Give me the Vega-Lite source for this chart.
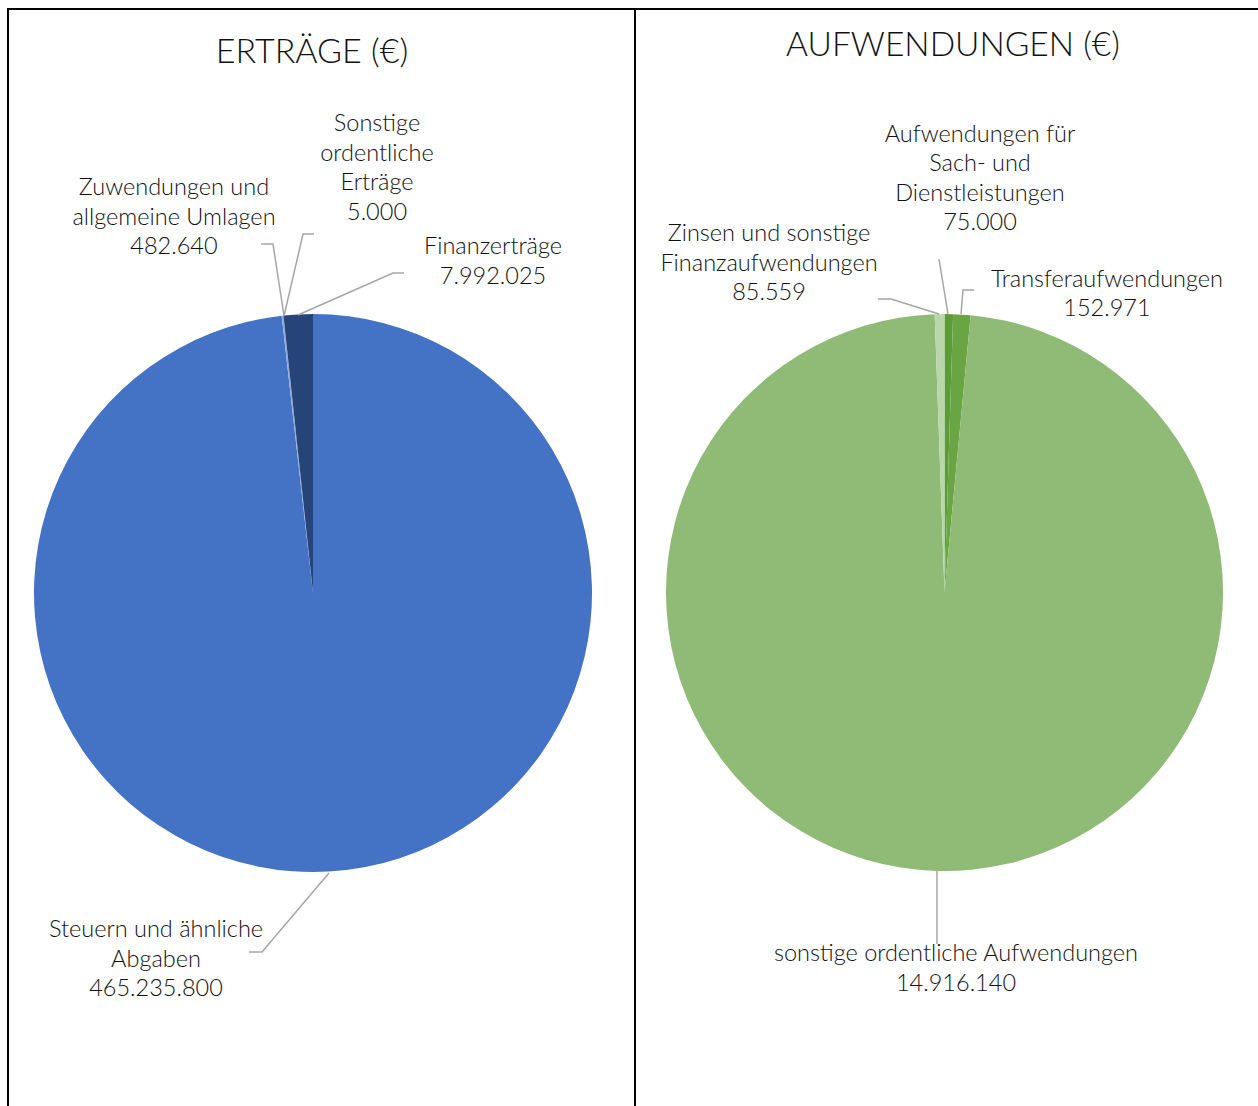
{
  "$schema": "https://vega.github.io/schema/vega-lite/v6.json",
  "background": "white",
  "padding": {"left": 7, "top": 8, "right": 0, "bottom": 0},
  "spacing": 0,
  "bounds": "flush",
  "resolve": {"scale": {"color": "independent"}},
  "config": {"view": {"stroke": "#000000", "strokeWidth": 2}, "font": "Lato"},
  "datasets": {
    "ertraege": [
      {"kategorie": "Steuern und ähnliche Abgaben", "wert": 465235800, "ord": 1},
      {"kategorie": "Zuwendungen und allgemeine Umlagen", "wert": 482640, "ord": 2},
      {"kategorie": "Sonstige ordentliche Erträge", "wert": 5000, "ord": 3},
      {"kategorie": "Finanzerträge", "wert": 7992025, "ord": 4}
    ],
    "aufwendungen": [
      {"kategorie": "Aufwendungen für Sach- und Dienstleistungen", "wert": 75000, "ord": 1},
      {"kategorie": "Transferaufwendungen", "wert": 152971, "ord": 2},
      {"kategorie": "sonstige ordentliche Aufwendungen", "wert": 14916140, "ord": 3},
      {"kategorie": "Zinsen und sonstige Finanzaufwendungen", "wert": 85559, "ord": 4}
    ],
    "ertraege_labels": [
      {"label": "Zuwendungen und\nallgemeine Umlagen\n482.640", "lx": -0.4982, "ly": 1.4516},
      {"label": "Sonstige\nordentliche\nErträge\n5.000", "lx": 0.2294, "ly": 1.681},
      {"label": "Finanzerträge\n7.992.025", "lx": 0.6452, "ly": 1.2401},
      {"label": "Steuern und ähnliche\nAbgaben\n465.235.800", "lx": -0.5627, "ly": -1.2079}
    ],
    "aufwendungen_labels": [
      {"label": "Aufwendungen für\nSach- und\nDienstleistungen\n75.000", "lx": 0.1272, "ly": 1.6398},
      {"label": "Zinsen und sonstige\nFinanzaufwendungen\n85.559", "lx": -0.629, "ly": 1.2849},
      {"label": "Transferaufwendungen\n152.971", "lx": 0.5824, "ly": 1.1201},
      {"label": "sonstige ordentliche Aufwendungen\n14.916.140", "lx": 0.0412, "ly": -1.2957}
    ],
    "ertraege_lines": [
      {"id": "a", "o": 1, "px": -0.1864, "py": 1.2509},
      {"id": "a", "o": 2, "px": -0.1434, "py": 1.2509},
      {"id": "a", "o": 3, "px": -0.1039, "py": 0.9928},
      {"id": "b", "o": 1, "px": 0.0036, "py": 1.2867},
      {"id": "b", "o": 2, "px": -0.0358, "py": 1.2867},
      {"id": "b", "o": 3, "px": -0.1039, "py": 0.9928},
      {"id": "c", "o": 1, "px": 0.3262, "py": 1.147},
      {"id": "c", "o": 2, "px": 0.2867, "py": 1.147},
      {"id": "c", "o": 3, "px": -0.0538, "py": 0.9964},
      {"id": "d", "o": 1, "px": 0.0573, "py": -1.0036},
      {"id": "d", "o": 2, "px": -0.1828, "py": -1.2867},
      {"id": "d", "o": 3, "px": -0.2294, "py": -1.2867}
    ],
    "aufwendungen_lines": [
      {"id": "a", "o": 1, "px": -0.0197, "py": 1.1953},
      {"id": "a", "o": 2, "px": 0.0125, "py": 0.9982},
      {"id": "b", "o": 1, "px": 0.1057, "py": 1.0842},
      {"id": "b", "o": 2, "px": 0.0663, "py": 1.0842},
      {"id": "b", "o": 3, "px": 0.0591, "py": 0.9982},
      {"id": "c", "o": 1, "px": -0.2384, "py": 1.052},
      {"id": "c", "o": 2, "px": -0.1918, "py": 1.052},
      {"id": "c", "o": 3, "px": -0.0197, "py": 0.9982},
      {"id": "d", "o": 1, "px": -0.0269, "py": -0.9982},
      {"id": "d", "o": 2, "px": -0.0269, "py": -1.2599}
    ],
    "schatten": [{"v": 1}]
  },
  "hconcat": [
    {
      "width": 627,
      "height": 1106,
      "layer": [
        {
          "data": {"name": "schatten"},
          "mark": {"type": "arc", "outerRadius": 290, "color": "#000000", "opacity": 0.03},
          "encoding": {
            "x": {"datum": 0, "type": "quantitative", "scale": {"domain": [-1.09319, 1.15412], "nice": false, "zero": false}, "axis": null},
            "y": {"datum": 0, "type": "quantitative", "scale": {"domain": [-1.87097, 2.09319], "nice": false, "zero": false}, "axis": null},
            "theta": {"field": "v", "type": "quantitative"}
          }
        },
        {
          "data": {"name": "schatten"},
          "mark": {"type": "arc", "outerRadius": 285, "color": "#000000", "opacity": 0.05},
          "encoding": {
            "x": {"datum": 0, "type": "quantitative", "scale": {"domain": [-1.09319, 1.15412], "nice": false, "zero": false}, "axis": null},
            "y": {"datum": 0, "type": "quantitative", "scale": {"domain": [-1.87097, 2.09319], "nice": false, "zero": false}, "axis": null},
            "theta": {"field": "v", "type": "quantitative"}
          }
        },
        {
          "data": {"name": "schatten"},
          "mark": {"type": "arc", "outerRadius": 281.5, "color": "#000000", "opacity": 0.08},
          "encoding": {
            "x": {"datum": 0, "type": "quantitative", "scale": {"domain": [-1.09319, 1.15412], "nice": false, "zero": false}, "axis": null},
            "y": {"datum": 0, "type": "quantitative", "scale": {"domain": [-1.87097, 2.09319], "nice": false, "zero": false}, "axis": null},
            "theta": {"field": "v", "type": "quantitative"}
          }
        },
        {
          "data": {"name": "ertraege"},
          "mark": {"type": "arc", "outerRadius": 279},
          "encoding": {
            "x": {"datum": 0, "type": "quantitative", "scale": {"domain": [-1.09319, 1.15412], "nice": false, "zero": false}, "axis": null},
            "y": {"datum": 0, "type": "quantitative", "scale": {"domain": [-1.87097, 2.09319], "nice": false, "zero": false}, "axis": null},
            "theta": {"field": "wert", "type": "quantitative", "stack": true},
            "order": {"field": "ord", "type": "quantitative"},
            "color": {
              "field": "kategorie", "type": "nominal", "legend": null,
              "scale": {
                "domain": ["Steuern und ähnliche Abgaben", "Zuwendungen und allgemeine Umlagen", "Sonstige ordentliche Erträge", "Finanzerträge"],
                "range": ["#4472C4", "#8FAADC", "#698ED0", "#264478"]
              }
            }
          }
        },
        {
          "data": {"name": "ertraege_lines"},
          "mark": {"type": "line", "color": "#A6A6A6", "strokeWidth": 1.5},
          "encoding": {
            "x": {"field": "px", "type": "quantitative", "scale": {"domain": [-1.09319, 1.15412], "nice": false, "zero": false}, "axis": null},
            "y": {"field": "py", "type": "quantitative", "scale": {"domain": [-1.87097, 2.09319], "nice": false, "zero": false}, "axis": null},
            "detail": {"field": "id", "type": "nominal"},
            "order": {"field": "o", "type": "quantitative"}
          }
        },
        {
          "data": {"name": "ertraege_labels"},
          "mark": {"type": "text", "font": "Lato", "fontWeight": 300, "fontSize": 23.5, "lineHeight": 29.5, "lineBreak": "\n", "align": "center", "baseline": "middle", "color": "#111111"},
          "encoding": {
            "x": {"field": "lx", "type": "quantitative", "scale": {"domain": [-1.09319, 1.15412], "nice": false, "zero": false}, "axis": null},
            "y": {"field": "ly", "type": "quantitative", "scale": {"domain": [-1.87097, 2.09319], "nice": false, "zero": false}, "axis": null},
            "text": {"field": "label", "type": "nominal"}
          }
        },
        {
          "data": {"values": [{"titel": "ERTRÄGE (€)"}]},
          "mark": {"type": "text", "font": "Lato", "fontWeight": 300, "fontSize": 34, "align": "center", "baseline": "middle", "color": "#111111"},
          "encoding": {
            "x": {"datum": -0.0036, "type": "quantitative", "scale": {"domain": [-1.09319, 1.15412], "nice": false, "zero": false}, "axis": null},
            "y": {"datum": 1.9355, "type": "quantitative", "scale": {"domain": [-1.87097, 2.09319], "nice": false, "zero": false}, "axis": null},
            "text": {"field": "titel", "type": "nominal"}
          }
        }
      ]
    },
    {
      "width": 630,
      "height": 1106,
      "layer": [
        {
          "data": {"name": "schatten"},
          "mark": {"type": "arc", "outerRadius": 289.5, "color": "#000000", "opacity": 0.03},
          "encoding": {
            "x": {"datum": 0, "type": "quantitative", "scale": {"domain": [-1.10932, 1.14875], "nice": false, "zero": false}, "axis": null},
            "y": {"datum": 0, "type": "quantitative", "scale": {"domain": [-1.87276, 2.0914], "nice": false, "zero": false}, "axis": null},
            "theta": {"field": "v", "type": "quantitative"}
          }
        },
        {
          "data": {"name": "schatten"},
          "mark": {"type": "arc", "outerRadius": 284.5, "color": "#000000", "opacity": 0.05},
          "encoding": {
            "x": {"datum": 0, "type": "quantitative", "scale": {"domain": [-1.10932, 1.14875], "nice": false, "zero": false}, "axis": null},
            "y": {"datum": 0, "type": "quantitative", "scale": {"domain": [-1.87276, 2.0914], "nice": false, "zero": false}, "axis": null},
            "theta": {"field": "v", "type": "quantitative"}
          }
        },
        {
          "data": {"name": "schatten"},
          "mark": {"type": "arc", "outerRadius": 281, "color": "#000000", "opacity": 0.08},
          "encoding": {
            "x": {"datum": 0, "type": "quantitative", "scale": {"domain": [-1.10932, 1.14875], "nice": false, "zero": false}, "axis": null},
            "y": {"datum": 0, "type": "quantitative", "scale": {"domain": [-1.87276, 2.0914], "nice": false, "zero": false}, "axis": null},
            "theta": {"field": "v", "type": "quantitative"}
          }
        },
        {
          "data": {"name": "aufwendungen"},
          "mark": {"type": "arc", "outerRadius": 278.5},
          "encoding": {
            "x": {"datum": 0, "type": "quantitative", "scale": {"domain": [-1.10932, 1.14875], "nice": false, "zero": false}, "axis": null},
            "y": {"datum": 0, "type": "quantitative", "scale": {"domain": [-1.87276, 2.0914], "nice": false, "zero": false}, "axis": null},
            "theta": {"field": "wert", "type": "quantitative", "stack": true},
            "order": {"field": "ord", "type": "quantitative"},
            "color": {
              "field": "kategorie", "type": "nominal", "legend": null,
              "scale": {
                "domain": ["Aufwendungen für Sach- und Dienstleistungen", "Transferaufwendungen", "sonstige ordentliche Aufwendungen", "Zinsen und sonstige Finanzaufwendungen"],
                "range": ["#5C9B38", "#6AA544", "#90BB76", "#BAD7A9"]
              }
            }
          }
        },
        {
          "data": {"name": "aufwendungen_lines"},
          "mark": {"type": "line", "color": "#A6A6A6", "strokeWidth": 1.5},
          "encoding": {
            "x": {"field": "px", "type": "quantitative", "scale": {"domain": [-1.10932, 1.14875], "nice": false, "zero": false}, "axis": null},
            "y": {"field": "py", "type": "quantitative", "scale": {"domain": [-1.87276, 2.0914], "nice": false, "zero": false}, "axis": null},
            "detail": {"field": "id", "type": "nominal"},
            "order": {"field": "o", "type": "quantitative"}
          }
        },
        {
          "data": {"name": "aufwendungen_labels"},
          "mark": {"type": "text", "font": "Lato", "fontWeight": 300, "fontSize": 23.5, "lineHeight": 29.5, "lineBreak": "\n", "align": "center", "baseline": "middle", "color": "#111111"},
          "encoding": {
            "x": {"field": "lx", "type": "quantitative", "scale": {"domain": [-1.10932, 1.14875], "nice": false, "zero": false}, "axis": null},
            "y": {"field": "ly", "type": "quantitative", "scale": {"domain": [-1.87276, 2.0914], "nice": false, "zero": false}, "axis": null},
            "text": {"field": "label", "type": "nominal"}
          }
        },
        {
          "data": {"values": [{"titel": "AUFWENDUNGEN (€)"}]},
          "mark": {"type": "text", "font": "Lato", "fontWeight": 300, "fontSize": 33.5, "align": "center", "baseline": "middle", "color": "#111111"},
          "encoding": {
            "x": {"datum": 0.0305, "type": "quantitative", "scale": {"domain": [-1.10932, 1.14875], "nice": false, "zero": false}, "axis": null},
            "y": {"datum": 1.9588, "type": "quantitative", "scale": {"domain": [-1.87276, 2.0914], "nice": false, "zero": false}, "axis": null},
            "text": {"field": "titel", "type": "nominal"}
          }
        }
      ]
    }
  ]
}
